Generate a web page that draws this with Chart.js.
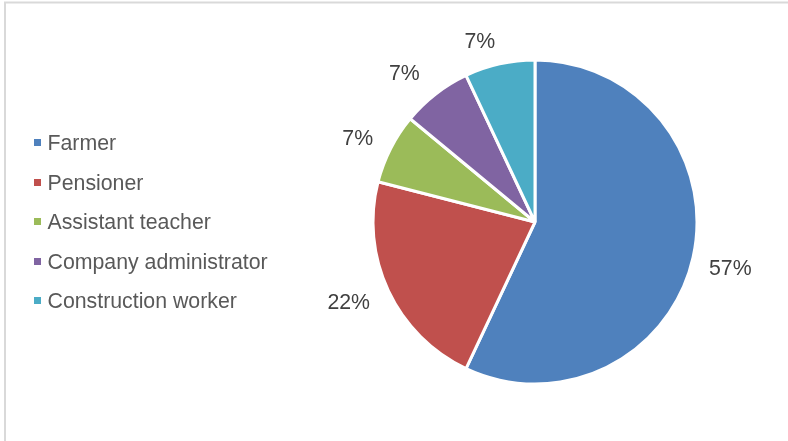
<!DOCTYPE html>
<html>
<head>
<meta charset="utf-8">
<script src="https://cdn.jsdelivr.net/npm/chart.js@4.4.1/dist/chart.umd.min.js"></script>
<style>
  html, body { margin: 0; padding: 0; background: #ffffff; }
  #wrap { position: relative; width: 788px; height: 441px; }
</style>
</head>
<body>
<div id="wrap"><canvas id="c" width="788" height="441"></canvas></div>
<script>
// Occupations and their share (%)
const categories = ['Farmer', 'Pensioner', 'Assistant teacher', 'Company administrator', 'Construction worker'];
const shares = [57, 22, 7, 7, 7];
const labelTexts = ['57%', '22%', '7%', '7%', '7%'];
const colors = ['#4F81BD', '#C0504D', '#9BBB59', '#8064A2', '#4BACC6'];

const FONT = '"Liberation Sans", Arial, sans-serif';
const FONT_SIZE = 21.3;
const CAP = 0.358 * FONT_SIZE; // distance from baseline to the middle of capitals

// Small angular shifts (degrees) so the little slices' labels don't crowd each other
const labelAngleShift = [0.4, 2.1, -1.4, -3.3, -4.3];
const labelGap = [16, 18, 17.5, 21, 16];

// Frame lines along the top and left edges
const framePlugin = {
  id: 'frame',
  beforeDraw(chart) {
    const ctx = chart.ctx;
    ctx.save();
    ctx.fillStyle = '#ffffff';
    ctx.fillRect(0, 0, chart.width, chart.height);
    ctx.strokeStyle = '#d9d9d9';
    ctx.lineWidth = 2;
    ctx.beginPath();
    ctx.moveTo(5, chart.height);
    ctx.lineTo(5, 2.5);
    ctx.lineTo(chart.width, 2.5);
    ctx.stroke();
    ctx.restore();
  }
};

// Legend drawn on the left, one row per category
const sideLegend = {
  id: 'sideLegend',
  afterDraw(chart) {
    const ctx = chart.ctx;
    const labels = chart.data.labels;
    const bg = chart.data.datasets[0].backgroundColor;
    ctx.save();
    ctx.font = FONT_SIZE + 'px ' + FONT;
    ctx.textBaseline = 'alphabetic';
    ctx.textAlign = 'left';
    const top = 142.7, step = 39.5;
    labels.forEach((lab, i) => {
      const y = top + i * step;
      ctx.fillStyle = bg[i];
      ctx.fillRect(34, Math.round(y - 3.5), 7, 7);
      ctx.fillStyle = '#595959';
      ctx.fillText(lab, 47.5, y + CAP);
    });
    ctx.restore();
  }
};

// Percent labels placed just outside each slice
const outsideLabels = {
  id: 'outsideLabels',
  afterDatasetsDraw(chart) {
    const ctx = chart.ctx;
    const meta = chart.getDatasetMeta(0);
    ctx.save();
    ctx.font = FONT_SIZE + 'px ' + FONT;
    ctx.fillStyle = '#404040';
    ctx.textAlign = 'center';
    ctx.textBaseline = 'alphabetic';
    meta.data.forEach((arc, i) => {
      const p = arc.getProps(['x', 'y', 'startAngle', 'endAngle', 'outerRadius'], true);
      const mid = (p.startAngle + p.endAngle) / 2 + labelAngleShift[i] * Math.PI / 180;
      const cx = Math.cos(mid), cy = Math.sin(mid);
      const txt = labelTexts[i];
      const w = ctx.measureText(txt).width;
      const h = 15;
      const half = Math.abs(cx) * w / 2 + Math.abs(cy) * h / 2;
      const d = p.outerRadius + labelGap[i] + half;
      ctx.fillText(txt, p.x + cx * d, p.y + cy * d + CAP);
    });
    ctx.restore();
  }
};

new Chart(document.getElementById('c'), {
  type: 'pie',
  data: {
    labels: categories,
    datasets: [{
      data: shares,
      backgroundColor: colors,
      borderColor: '#ffffff',
      borderWidth: 3,
      hoverOffset: 0
    }]
  },
  options: {
    responsive: false,
    animation: false,
    events: [],
    radius: 162,
    layout: { padding: { left: 373, right: 91, top: 60, bottom: 57 } },
    plugins: {
      legend: { display: false },
      tooltip: { enabled: false }
    }
  },
  plugins: [framePlugin, sideLegend, outsideLabels]
});
</script>
</body>
</html>
